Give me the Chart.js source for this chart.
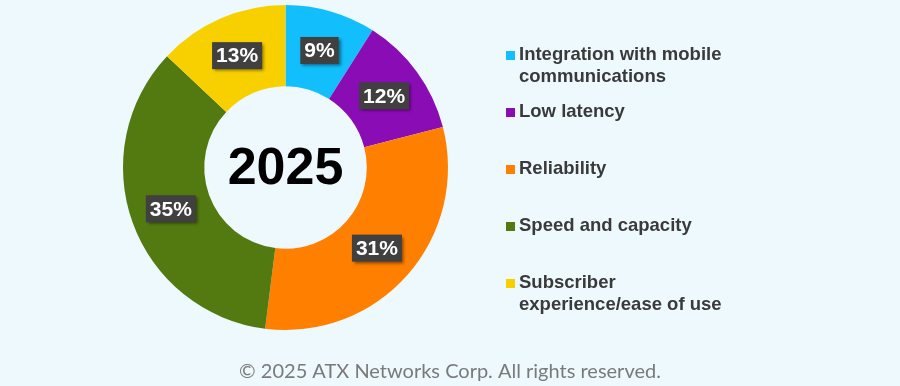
<!DOCTYPE html>
<html>
<head>
<meta charset="utf-8">
<script src="https://cdn.jsdelivr.net/npm/chart.js@4"></script>
<style>
  html, body { margin: 0; padding: 0; background: #eef9fe; }
  #wrap { position: relative; width: 900px; height: 386px; }
</style>
</head>
<body>
<div id="wrap"><canvas id="donut" width="900" height="386"></canvas></div>
<script>
const categories = [
  'Integration with mobile communications',
  'Low latency',
  'Reliability',
  'Speed and capacity',
  'Subscriber experience/ease of use'
];
const shares = [9, 12, 31, 35, 13];
const colors = ['#12bffc', '#8a0cb5', '#ff8000', '#537a10', '#f8d000'];
const centerText = '2025';
const footerText = '\u00a9 2025 ATX Networks Corp. All rights reserved.';

const FONT = '"Liberation Sans", Arial, sans-serif';

function wrapText(ctx, text, maxWidth) {
  const words = text.split(' ');
  const lines = [];
  let line = '';
  words.forEach(w => {
    const test = line ? line + ' ' + w : w;
    if (ctx.measureText(test).width > maxWidth && line) {
      lines.push(line);
      line = w;
    } else {
      line = test;
    }
  });
  if (line) lines.push(line);
  return lines;
}

// value boxes, centre year, side legend and footer
const extras = {
  id: 'extras',
  afterDatasetsDraw(chart) {
    const ctx = chart.ctx;
    const meta = chart.getDatasetMeta(0);
    ctx.save();

    // percent boxes
    ctx.font = 'bold 21px ' + FONT;
    ctx.textAlign = 'center';
    ctx.textBaseline = 'middle';
    meta.data.forEach((arc, i) => {
      const p = arc.tooltipPosition();
      const txt = shares[i] + '%';
      const w = ctx.measureText(txt).width + 8;
      const h = 27;
      ctx.save();
      ctx.shadowColor = 'rgba(0,0,0,0.45)';
      ctx.shadowBlur = 3;
      ctx.shadowOffsetX = 2;
      ctx.shadowOffsetY = 2;
      ctx.fillStyle = '#404040';
      ctx.fillRect(p.x - w / 2, p.y - h / 2, w, h);
      ctx.restore();
      ctx.fillStyle = '#ffffff';
      ctx.fillText(txt, p.x, p.y + 1);
    });

    // centre label
    const c = meta.data[0];
    ctx.fillStyle = '#000000';
    ctx.font = 'bold 52px ' + FONT;
    ctx.fillText(centerText, c.x, c.y + 2);

    // legend
    ctx.font = 'bold 18.5px ' + FONT;
    ctx.textAlign = 'left';
    let y = 55;
    categories.forEach((cat, i) => {
      const lines = wrapText(ctx, cat, 212);
      ctx.fillStyle = colors[i];
      ctx.fillRect(506, y - 4, 9, 9);
      ctx.fillStyle = '#3a3a3a';
      lines.forEach((ln, j) => ctx.fillText(ln, 519, y + j * 22));
      y += 57;
    });

    // footer
    ctx.font = '20px Lato, "Open Sans", sans-serif';
    ctx.textAlign = 'center';
    ctx.fillStyle = '#7a7a7a';
    ctx.fillText(footerText, 450, 372);

    ctx.restore();
  }
};

new Chart(document.getElementById('donut'), {
  type: 'doughnut',
  data: {
    labels: categories,
    datasets: [{
      data: shares,
      backgroundColor: colors,
      borderWidth: 0
    }]
  },
  options: {
    responsive: false,
    animation: false,
    cutout: '50%',
    layout: { padding: { left: 123, right: 452, top: 5, bottom: 56 } },
    plugins: {
      legend: { display: false },
      tooltip: { enabled: false }
    }
  },
  plugins: [extras]
});
</script>
</body>
</html>
